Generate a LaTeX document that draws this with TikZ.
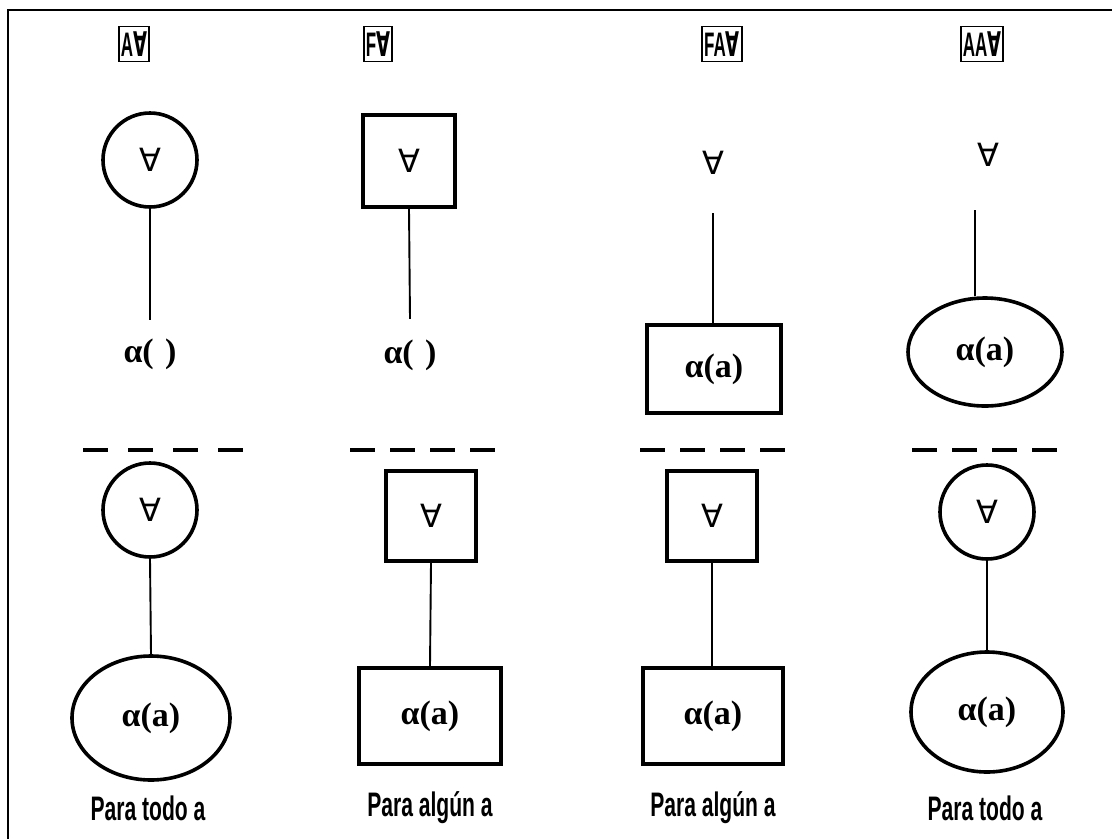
\documentclass[tikz,border=0pt]{standalone}
\usepackage{fontspec}
\setmainfont{Liberation Serif}
\newfontfamily\condsans[FakeStretch=0.62]{Liberation Sans}
\newfontfamily\hdrsans[FakeStretch=0.50]{Liberation Sans}
\newfontfamily\hdrsym[FakeStretch=0.53]{DejaVu Sans}
\newfontfamily\symfont{DejaVu Sans}
\usetikzlibrary{shapes.geometric}

% quantifier glyph used inside the shapes
\newcommand{\fa}{{\symfont\fontsize{32}{32}\selectfont ∀}}
% bold alpha-expression
\newcommand{\expr}[1]{{\bfseries\fontsize{34}{34}\selectfont α(#1)}}
% header tag: bold condensed letters followed by the quantifier
\newcommand{\hdrtag}[1]{{\fontsize{34}{34}\selectfont
  {\hdrsans\bfseries #1}{\hdrsym\bfseries ∀}}}

\tikzset{
  hdr/.style={draw, line width=1.8pt, inner xsep=2pt, inner ysep=0pt,
              minimum height=35pt},
  ring/.style={circle, draw, line width=3.6pt, minimum size=#1, inner sep=0pt},
  sqbox/.style={rectangle, draw, line width=3.6pt, minimum size=#1, inner sep=0pt},
  rbox/.style 2 args={rectangle, draw, line width=3.6pt, minimum width=#1,
                      minimum height=#2, inner sep=0pt},
  oval/.style 2 args={ellipse, draw, line width=3.6pt, minimum width=#1,
                      minimum height=#2, inner sep=0pt},
  plain/.style={minimum height=#1, inner sep=0pt},
  link/.style={line width=1.9pt},
  cut/.style={line width=3.6pt, dash pattern=on 25pt off #1},
  caption/.style={font=\condsans\bfseries\fontsize{34}{34}\selectfont}
}

\begin{document}
\begin{tikzpicture}[x=1pt, y=-1pt]
\useasboundingbox (0,0) rectangle (1112,839);

% frame (top and left edges)
\draw[line width=2pt] (8,839) -- (8,10) -- (1112,10);

% ---------- headers ----------
\node[hdr] (h1) at (134,44) {\hdrtag{A}};
\node[hdr] (h2) at (378,44) {\hdrtag{F}};
\node[hdr] (h3) at (722,44) {\hdrtag{FA}};
\node[hdr] (h4) at (982,44) {\hdrtag{AA}};

% ---------- column 1 ----------
\node[ring=94pt] (c1t) at (150,160) {\fa};
\node[plain=68pt] (c1e) at (150,354) {\expr{\,\,}};
\draw[link] (c1t.south) -- (c1e.north);
\draw[cut=20pt] (83,450) -- (243,450);
\node[ring=94pt] (c1b) at (150,510) {\fa};
\node[oval={158pt}{124pt}] (c1o) at (151,718) {\expr{a}};
\draw[link] (c1b.south) -- (c1o.north);
\node[caption] (p1) at (148,808) {Para todo a};

% ---------- column 2 ----------
\node[sqbox=92pt] (c2t) at (409,161) {\fa};
\node[plain=72pt] (c2e) at (410,355) {\expr{\,\,}};
\draw[link] (c2t.south) -- (c2e.north);
\draw[cut=15pt] (350,450) -- (495,450);
\node[sqbox=90pt] (c2b) at (431,516) {\fa};
\node[rbox={142pt}{96pt}] (c2r) at (430,716) {\expr{a}};
\draw[link] (c2b.south) -- (c2r.north);
\node[caption] (p2) at (430,808) {Para algún a};

% ---------- column 3 ----------
\node[plain=100pt] (c3f) at (713,163) {\fa};
\node[rbox={134pt}{88pt}] (c3r) at (714,369) {\expr{a}};
\draw[link] (c3f.south) -- (c3r.north -| c3f.south);
\draw[cut=15pt] (640,450) -- (785,450);
\node[sqbox=90pt] (c3b) at (712,516) {\fa};
\node[rbox={140pt}{96pt}] (c3s) at (713,716) {\expr{a}};
\draw[link] (c3b.south) -- (c3s.north -| c3b.south);
\node[caption] (p3) at (713,808) {Para algún a};

% ---------- column 4 ----------
\node[plain=110pt] (c4f) at (988,155) {\fa};
\node[oval={154pt}{108pt}] (c4o) at (985,352) {\expr{a}};
\draw[link] ([xshift=-13pt]c4f.south) -- ([xshift=-10pt]c4o.north);
\draw[cut=15pt] (912,450) -- (1057,450);
\node[ring=94pt] (c4b) at (987,512) {\fa};
\node[oval={152pt}{120pt}] (c4p) at (987,712) {\expr{a}};
\draw[link] (c4b.south) -- (c4p.north);
\node[caption] (p4) at (985,808) {Para todo a};
\end{tikzpicture}
\end{document}
